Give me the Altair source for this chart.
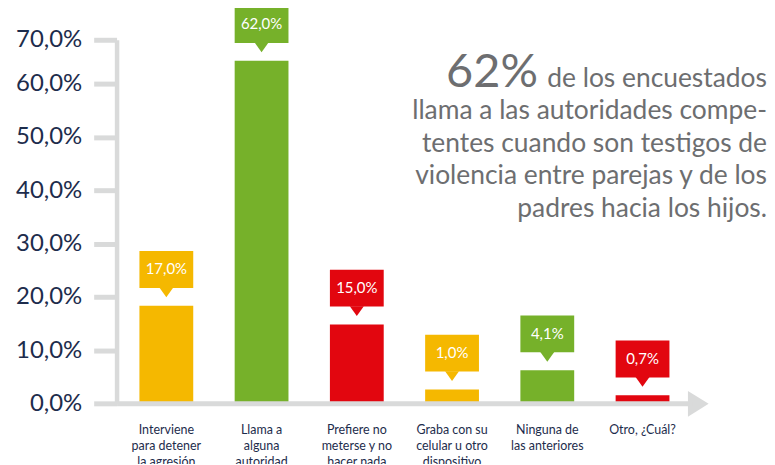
import altair as alt
import pandas as pd

# ---- data ----
categories = [
    "Interviene\npara detener\nla agresión",
    "Llama a\nalguna\nautoridad",
    "Prefiere no\nmeterse y no\nhacer nada",
    "Graba con su\ncelular u otro\ndispositivo",
    "Ninguna de\nlas anteriores",
    "Otro, ¿Cuál?",
]
bar_values = [18.3, 65.2, 14.8, 2.6, 6.2, 1.5]          # bar heights as drawn
label_texts = ["17,0%", "62,0%", "15,0%", "1,0%", "4,1%", "0,7%"]
bar_colors = ["#F5B800", "#76B12A", "#E2060F", "#F5B800", "#76B12A", "#E2060F"]
y_ticks = [0, 10, 20, 30, 40, 50, 60, 70]

headline_big = "62%"
headline_rest = "de los encuestados"
body_lines = [
    "llama a las autoridades compe-",
    "tentes cuando son testigos de",
    "violencia entre parejas y de los",
    "padres hacia los hijos.",
]

W, H = 578, 365
AXIS_GRAY = "#D9DADA"
NAVY = "#1D2C4C"
TEXT_GRAY = "#6D6E70"

df = pd.DataFrame({"cat": categories, "value": bar_values, "label": label_texts})

x_enc = alt.X(
    "cat:N",
    sort=categories,
    scale=alt.Scale(paddingInner=0.435, paddingOuter=0.24),
    axis=alt.Axis(
        title=None, labelAngle=0, ticks=False, tickSize=0,
        domainColor=AXIS_GRAY, domainWidth=5,
        labelExpr="split(datum.label, '\\n')",
        labelFont="Lato", labelFontSize=12.5, labelColor=NAVY,
        labelLineHeight=16, labelPadding=20, zindex=1,
    ),
)
y_enc = alt.Y(
    "value:Q",
    scale=alt.Scale(domain=[0, 60, 70], range=[H, 44, 0], nice=False),
    axis=alt.Axis(
        title=None, grid=False, values=y_ticks,
        labelExpr="replace(format(datum.value, '.1f'), '.', ',') + '%'",
        domainColor=AXIS_GRAY, domainWidth=4.5,
        tickColor=AXIS_GRAY, tickWidth=5, tickSize=23,
        labelPadding=12, labelFont="Lato", labelFontSize=24, labelColor=NAVY,
        zindex=1,
    ),
)
color_enc = alt.Color("cat:N", scale=alt.Scale(domain=categories, range=bar_colors), legend=None)

base = alt.Chart(df)

bars = base.mark_bar().encode(x=x_enc, y=y_enc, color=color_enc)

boxes = base.mark_bar(yOffset=-18, y2Offset=-55).encode(
    x=alt.X("cat:N", sort=categories), y="value:Q", y2=alt.Y2("value:Q"), color=color_enc
)

pointers = base.mark_point(
    shape="M-1,-0.7L1,-0.7L0,0.7Z", size=196, filled=True, opacity=1, yOffset=-13.5
).encode(x=alt.X("cat:N", sort=categories), y="value:Q", color=color_enc)

labels = base.mark_text(
    yOffset=-36.5, color="white", font="Lato", fontSize=15, baseline="middle", align="center"
).encode(x=alt.X("cat:N", sort=categories), y="value:Q", text="label:N")

dummy = alt.Chart(pd.DataFrame({"k": [0]}))

arrow = dummy.mark_point(
    shape="M-0.8,-1L0.8,0L-0.8,1Z", size=676, filled=True, opacity=1, color=AXIS_GRAY
).encode(x=alt.value(W + 6), y=alt.value(H + 0.5))

big = dummy.mark_text(
    align="right", baseline="alphabetic", font="Lato", fontSize=47, fontWeight=400, color=TEXT_GRAY
).encode(x=alt.value(423), y=alt.value(47), text=alt.value(headline_big))

rest = dummy.mark_text(
    align="right", baseline="alphabetic", font="Lato", fontSize=26.5, fontWeight=400, color=TEXT_GRAY
).encode(x=alt.value(653), y=alt.value(47), text=alt.value(headline_rest))

body = dummy.mark_text(
    align="right", baseline="alphabetic", font="Lato", fontSize=26.5, fontWeight=400,
    color=TEXT_GRAY, lineHeight=32.5
).encode(x=alt.value(653), y=alt.value(80), text=alt.value(body_lines))

chart = (
    alt.layer(bars, boxes, pointers, labels, arrow, big, rest, body)
    .properties(
        width=W, height=H,
        autosize=alt.AutoSizeParams(type="none"),
        padding={"left": 109, "top": 31, "right": 75, "bottom": 60},
    )
    .configure_view(stroke=None)
)

chart.save("out.html", embed_options={"renderer": "svg", "actions": False})
